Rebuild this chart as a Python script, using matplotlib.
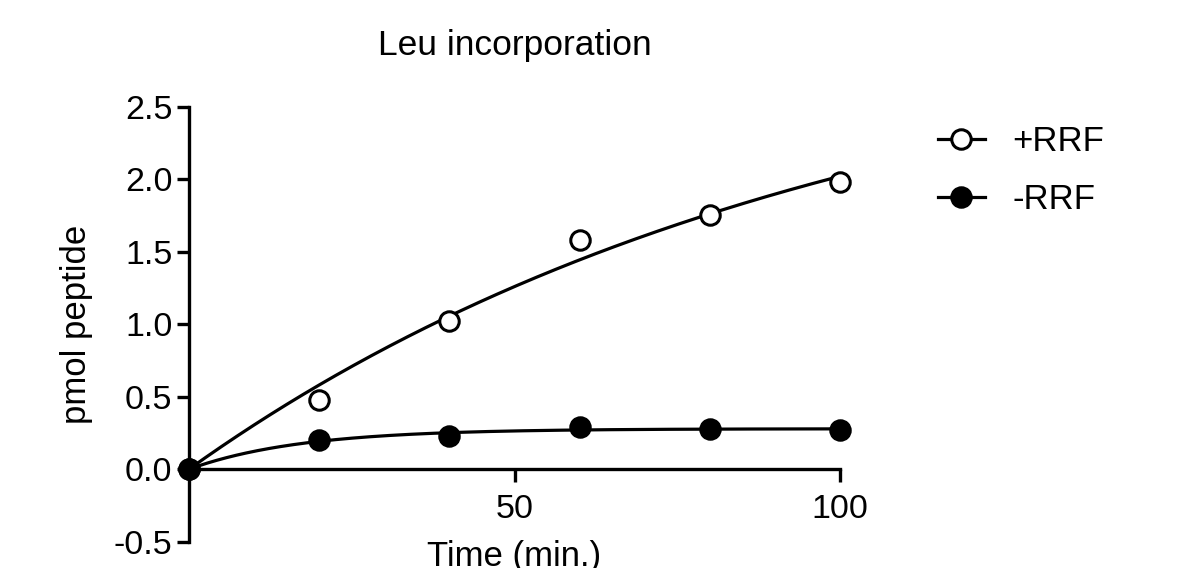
import numpy as np
import matplotlib
matplotlib.use("Agg")
import matplotlib.pyplot as plt
from matplotlib.lines import Line2D

plt.rcParams['font.family'] = ['Liberation Sans', 'DejaVu Sans']

time = [0, 20, 40, 60, 80, 100]
plus_rrf = [0.0, 0.48, 1.02, 1.58, 1.75, 1.98]
minus_rrf = [0.0, 0.20, 0.23, 0.29, 0.28, 0.27]
series_names = ['+RRF', '-RRF']
xticks = [50, 100]
yticks = [-0.5, 0.0, 0.5, 1.0, 1.5, 2.0, 2.5]


def fit_one_phase(x, y):
    x = np.asarray(x, float)
    y = np.asarray(y, float)
    best = None
    for k in np.linspace(0.001, 0.5, 5000):
        g = 1 - np.exp(-k * x)
        A = (g @ y) / (g @ g)
        sse = np.sum((y - A * g) ** 2)
        if best is None or sse < best[0]:
            best = (sse, A, k)
    return best[1], best[2]


fig = plt.figure(figsize=(11.92, 5.68), dpi=100)
ax = fig.add_axes([189 / 1192, 1 - 541.7 / 568, (840 - 189) / 1192, (541.7 - 106.7) / 568])

lw = 2.3
ms = 14
xs = np.linspace(0, 100, 400)
for ys, filled in [(plus_rrf, False), (minus_rrf, True)]:
    A, k = fit_one_phase(time, ys)
    ax.plot(xs, A * (1 - np.exp(-k * xs)), color='black', lw=lw, zorder=2)
    ax.plot(time, ys, ls='none', marker='o', ms=ms,
            mfc='black' if filled else 'white', mec='black', mew=2.2, zorder=3,
            clip_on=False)

ax.set_xlim(0, 100)
ax.set_ylim(-0.5, 2.5)
ax.spines['top'].set_visible(False)
ax.spines['right'].set_visible(False)
ax.spines['bottom'].set_position(('data', 0))
for s in ['left', 'bottom']:
    ax.spines[s].set_linewidth(2.4)
ax.set_xticks(xticks)
ax.set_yticks(yticks)
ax.set_yticklabels([f'{v:.1f}' for v in yticks])
ax.tick_params(width=2.4, length=9, labelsize=24.5, pad=3)
ax.tick_params(axis='x', pad=9)
ax.set_ylabel('pmol peptide', fontsize=25)
ax.yaxis.set_label_coords(-0.147, 0.5)
ax.set_xlabel('Time (min.)', fontsize=25)
ax.xaxis.set_label_coords(0.5, 0.004)
ax.set_title('Leu incorporation', fontsize=25.5, pad=37)

handles = [
    Line2D([], [], color='black', lw=lw, marker='o', ms=ms, mfc='white', mec='black', mew=2.2),
    Line2D([], [], color='black', lw=lw, marker='o', ms=ms, mfc='black', mec='black', mew=2.2),
]
fig.legend(handles, series_names, loc='upper left', bbox_to_anchor=(938 / 1192, 1 - 125 / 568),
           frameon=False, fontsize=25, handlelength=1.35, handletextpad=0.8,
           labelspacing=0.72, borderpad=0, borderaxespad=0)

fig.savefig('out.png', dpi=100)
